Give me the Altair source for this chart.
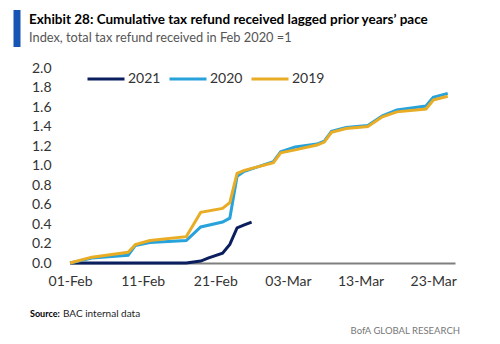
import altair as alt
import pandas as pd

series_names = ["2021", "2020", "2019"]
series_colors = ["#0b1f5e", "#27a2db", "#e8ac25"]

dates_2021 = ["2021-02-01", "2021-02-17", "2021-02-19", "2021-02-20", "2021-02-22",
              "2021-02-23", "2021-02-24", "2021-02-25", "2021-02-26"]
values_2021 = [0.0, 0.0, 0.02, 0.05, 0.10, 0.19, 0.36, 0.39, 0.42]

dates_2020 = ["2021-02-01", "2021-02-04", "2021-02-09", "2021-02-10", "2021-02-12",
              "2021-02-17", "2021-02-19", "2021-02-22", "2021-02-23", "2021-02-24",
              "2021-02-25", "2021-03-01", "2021-03-02", "2021-03-04", "2021-03-07",
              "2021-03-08", "2021-03-09", "2021-03-11", "2021-03-14", "2021-03-16",
              "2021-03-18", "2021-03-22", "2021-03-23", "2021-03-25"]
values_2020 = [0.0, 0.05, 0.08, 0.18, 0.21, 0.23, 0.37, 0.42, 0.46, 0.89, 0.94, 1.04,
               1.14, 1.19, 1.22, 1.25, 1.35, 1.39, 1.41, 1.51, 1.57, 1.61, 1.70, 1.74]

dates_2019 = ["2021-02-01", "2021-02-04", "2021-02-09", "2021-02-10", "2021-02-12",
              "2021-02-17", "2021-02-19", "2021-02-22", "2021-02-23", "2021-02-24",
              "2021-02-25", "2021-03-01", "2021-03-02", "2021-03-04", "2021-03-07",
              "2021-03-08", "2021-03-09", "2021-03-11", "2021-03-14", "2021-03-16",
              "2021-03-18", "2021-03-22", "2021-03-23", "2021-03-25"]
values_2019 = [0.0, 0.06, 0.11, 0.19, 0.23, 0.27, 0.52, 0.56, 0.62, 0.92, 0.95, 1.03,
               1.13, 1.16, 1.21, 1.24, 1.34, 1.38, 1.40, 1.50, 1.55, 1.58, 1.67, 1.71]

tick_dates = ["2021-02-01", "2021-02-11", "2021-02-21", "2021-03-03", "2021-03-13", "2021-03-23"]
domain_dates = ["2021-02-01", "2021-03-26"]
y_ticks = [0.0, 0.2, 0.4, 0.6, 0.8, 1.0, 1.2, 1.4, 1.6, 1.8, 2.0]

title_text = "Exhibit 28: Cumulative tax refund received lagged prior years\u2019 pace"
subtitle_text = "Index, total tax refund received in Feb 2020 =1"
source_bold = "Source:"
source_text = "BAC internal data"
brand_text = "BofA GLOBAL RESEARCH"


def ms(d):
    return int(pd.Timestamp(d, tz="UTC").value // 10**6)


rows = []
for name, ds, vs in [("2021", dates_2021, values_2021),
                     ("2020", dates_2020, values_2020),
                     ("2019", dates_2019, values_2019)]:
    for d, v in zip(ds, vs):
        rows.append({"date": d, "value": v, "series": name})
df = pd.DataFrame(rows)

FONT = "Lato"

lines = alt.Chart(df).mark_line(strokeWidth=3, interpolate="linear").encode(
    x=alt.X("date:T",
            scale=alt.Scale(type="utc", domain=[ms(d) for d in domain_dates]),
            axis=alt.Axis(values=[ms(d) for d in tick_dates],
                          labelExpr="utcFormat(datum.value, '%d-%b')",
                          labelOverlap=False, labelFlush=False,
                          title=None, ticks=False, grid=False,
                          domainColor="#7f7f7f", domainWidth=2, labelPadding=11,
                          labelFont=FONT, labelFontSize=14, labelColor="#333333")),
    y=alt.Y("value:Q", scale=alt.Scale(domain=[0, 2]),
            axis=alt.Axis(values=y_ticks, format=".1f", title=None, ticks=False,
                          grid=False, domain=False, labelPadding=19,
                          labelFont=FONT, labelFontSize=14, labelColor="#333333")),
    color=alt.Color("series:N",
                    scale=alt.Scale(domain=series_names, range=series_colors),
                    legend=alt.Legend(orient="none", legendX=16, legendY=-9,
                                      direction="horizontal", title=None,
                                      symbolType="stroke", symbolSize=1369,
                                      symbolStrokeWidth=3, labelFont=FONT,
                                      labelFontSize=14, labelColor="#333333",
                                      labelOffset=2, columnPadding=2)),
)

one = pd.DataFrame({"k": [0]})

bar = alt.Chart(one).mark_rule(color="#1755b5", strokeWidth=7).encode(
    x=alt.value(-53), y=alt.value(-58), y2=alt.value(-21))

src1 = alt.Chart(pd.DataFrame({"t": [source_bold]})).mark_text(
    align="left", baseline="middle", font=FONT, fontSize=9, fontWeight="bold",
    color="#000000").encode(text="t:N", x=alt.value(-40), y=alt.value(246))
src2 = alt.Chart(pd.DataFrame({"t": [source_text]})).mark_text(
    align="left", baseline="middle", font=FONT, fontSize=10,
    color="#222222").encode(text="t:N", x=alt.value(-7), y=alt.value(246))
brand = alt.Chart(pd.DataFrame({"t": [brand_text]})).mark_text(
    align="right", baseline="middle", font=FONT, fontSize=9.5,
    color="#777777").encode(text="t:N", x=alt.value(390), y=alt.value(263))

chart = alt.layer(bar, lines, src1, src2, brand).properties(
    width=385, height=195,
    autosize=alt.AutoSizeParams(type="none"),
    padding={"left": 70, "top": 68, "right": 45, "bottom": 81},
    title=alt.TitleParams(text=title_text, subtitle=subtitle_text, anchor="start",
                          frame="group", dx=-41, dy=38, offset=0, font=FONT,
                          fontSize=13.5, fontWeight="bold", color="#000000",
                          subtitleFont=FONT, subtitleFontSize=12.8,
                          subtitleColor="#555555", subtitlePadding=5),
).configure_view(stroke=None)

chart.save("out.html", embed_options={"renderer": "svg", "actions": False})
